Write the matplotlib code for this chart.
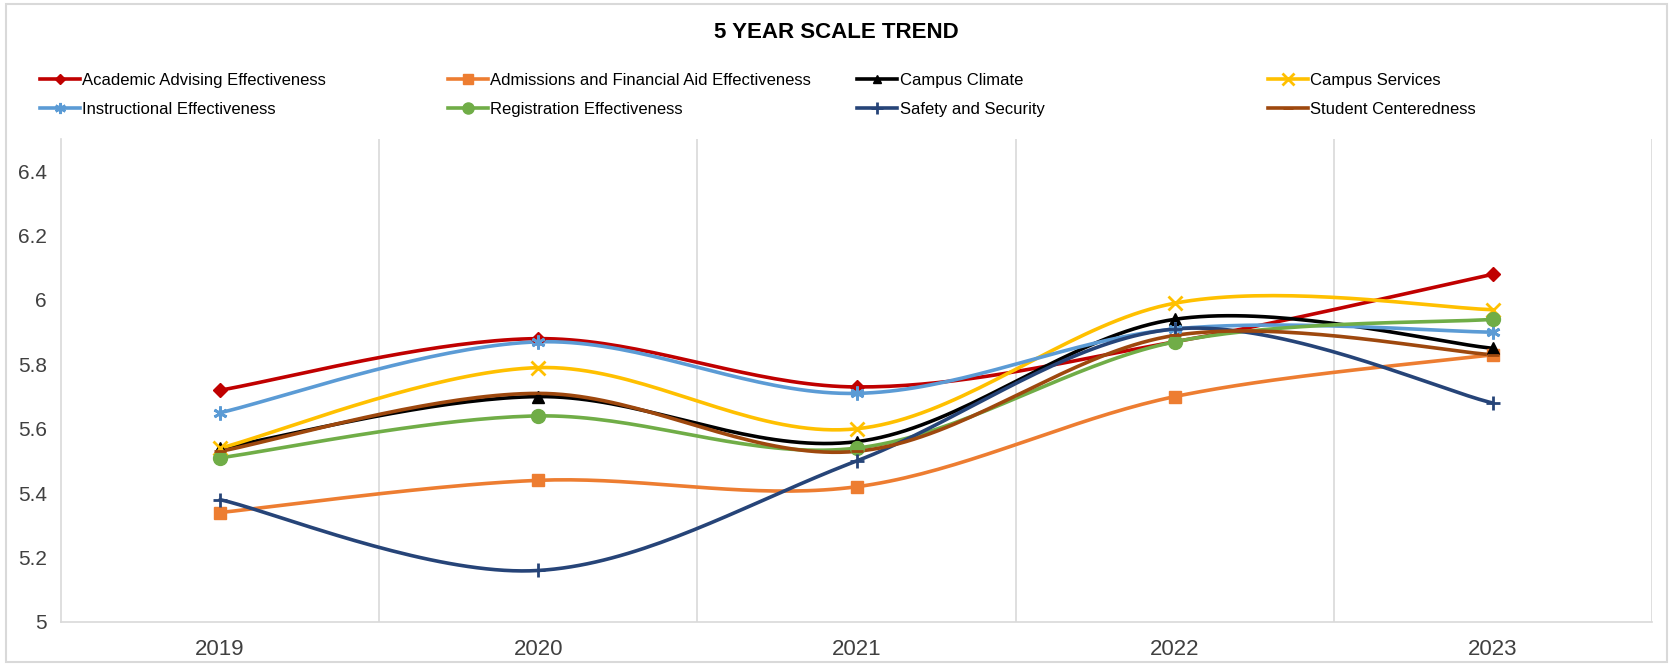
import numpy as np
import matplotlib
matplotlib.use("Agg")
import matplotlib.pyplot as plt
from matplotlib.patches import Rectangle

plt.rcParams['font.family'] = ['Liberation Sans Narrow', 'Liberation Sans', 'DejaVu Sans']

years = ["2019", "2020", "2021", "2022", "2023"]
academic = [5.72, 5.88, 5.73, 5.87, 6.08]
admissions = [5.34, 5.44, 5.42, 5.70, 5.83]
climate = [5.54, 5.70, 5.56, 5.94, 5.85]
services = [5.54, 5.79, 5.60, 5.99, 5.97]
instructional = [5.65, 5.87, 5.71, 5.91, 5.90]
registration = [5.51, 5.64, 5.54, 5.87, 5.94]
safety = [5.38, 5.16, 5.50, 5.91, 5.68]
centeredness = [5.53, 5.71, 5.53, 5.89, 5.83]

series_names = ["Academic Advising Effectiveness", "Admissions and Financial Aid Effectiveness",
                "Campus Climate", "Campus Services", "Instructional Effectiveness",
                "Registration Effectiveness", "Safety and Security", "Student Centeredness"]
series_vals = [academic, admissions, climate, services, instructional, registration, safety, centeredness]
colors = ["#C00000", "#ED7D31", "#000000", "#FFC000", "#5B9BD5", "#70AD47", "#264478", "#9E480E"]
markers = ["D", "s", "^", "x", (6, 2, 0), "o", "+", "_"]
msizes = [7, 9, 8, 10, 10, 10, 10, 9]


def smooth(x, y, n=40):
    # Excel-like Bezier smoothing (Catmull-Rom style control points)
    x = np.asarray(x, float); y = np.asarray(y, float)
    xs, ys = [], []
    m = len(x)
    for i in range(m - 1):
        p0 = np.array([x[max(i - 1, 0)], y[max(i - 1, 0)]])
        p1 = np.array([x[i], y[i]])
        p2 = np.array([x[i + 1], y[i + 1]])
        p3 = np.array([x[min(i + 2, m - 1)], y[min(i + 2, m - 1)]])
        c1 = p1 + (p2 - p0) / 6.0
        c2 = p2 - (p3 - p1) / 6.0
        t = np.linspace(0, 1, n)[:, None]
        pts = ((1 - t) ** 3) * p1 + 3 * ((1 - t) ** 2) * t * c1 + 3 * (1 - t) * t ** 2 * c2 + t ** 3 * p2
        if i > 0:
            pts = pts[1:]
        xs.extend(pts[:, 0]); ys.extend(pts[:, 1])
    return np.array(xs), np.array(ys)


W, H = 1673, 666
fig = plt.figure(figsize=(W / 100, H / 100), dpi=100)
fig.patches.append(Rectangle((6 / W, 4 / H), (W - 12) / W, (H - 8) / H, transform=fig.transFigure,
                             fill=False, edgecolor="#D9D9D9", linewidth=1.5))

left, right, bottom, top = 61, 1652, 622, 139
ax = fig.add_axes([left / W, 1 - bottom / H, (right - left) / W, (bottom - top) / H])
x = np.arange(len(years))
handles = []
for name, vals, c, mk, ms in zip(series_names, series_vals, colors, markers, msizes):
    sx, sy = smooth(x, vals)
    ax.plot(sx, sy, color=c, linewidth=2.6, solid_capstyle="round", zorder=3)
    mew = 2 if mk in ("x", "+", "_", (6, 2, 0)) else 1
    ax.plot(x, vals, linestyle="none", marker=mk, markersize=ms, color=c, markeredgewidth=mew, zorder=4)
    h, = ax.plot([], [], color=c, linewidth=2.6, marker=mk, markersize=ms * 0.8, markeredgewidth=mew)
    handles.append(h)

ax.set_xlim(-0.5, 4.5)
ax.set_ylim(5, 6.5)
ax.set_yticks([5, 5.2, 5.4, 5.6, 5.8, 6, 6.2, 6.4])
ax.set_yticklabels(["5", "5.2", "5.4", "5.6", "5.8", "6", "6.2", "6.4"])
ax.set_xticks(x)
ax.set_xticklabels(years)
for b in np.arange(0.5, 4.6, 1.0):
    ax.axvline(b, color="#D9D9D9", linewidth=1.2, zorder=1)
ax.tick_params(axis="both", length=0, colors="#404040")
ax.tick_params(axis="x", pad=12, labelsize=16)
ax.tick_params(axis="y", pad=10, labelsize=15)
for s in ["top", "right"]:
    ax.spines[s].set_visible(False)
ax.spines["left"].set_color("#D9D9D9")
ax.spines["bottom"].set_color("#D9D9D9")
ax.spines["left"].set_linewidth(1.2)
ax.spines["bottom"].set_linewidth(1.2)

fig.text(0.5, 1 - 32 / H, "5 YEAR SCALE TREND", ha="center", va="center", fontsize=16,
         fontweight="bold", color="#000000")

# legend: 4 columns, row-wise order as in the reference
col_x = [40, 448, 857, 1268]
for ci in range(4):
    idx = [ci, ci + 4]
    leg = fig.legend(handles=[handles[i] for i in idx], labels=[series_names[i] for i in idx],
                     loc="upper left", bbox_to_anchor=(col_x[ci] / W, 1 - 73 / H),
                     frameon=False, fontsize=12, handlelength=2.4, handletextpad=0.15,
                     labelspacing=0.85, borderaxespad=0, borderpad=0)

fig.savefig("out.png", dpi=100)
